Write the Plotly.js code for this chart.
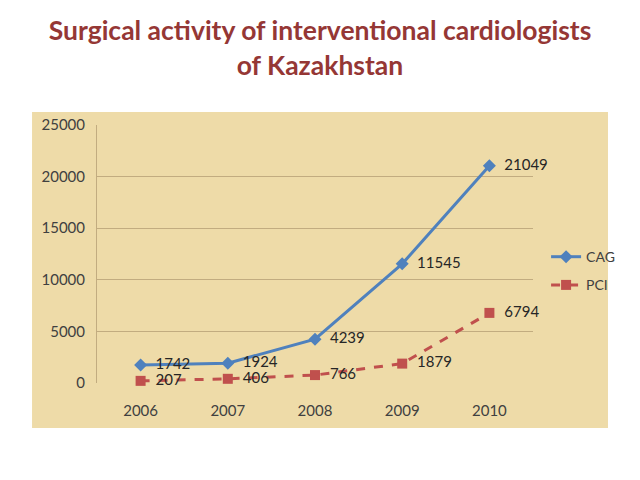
<!DOCTYPE html>
<html><head><meta charset="utf-8">
<script src="https://cdn.plot.ly/plotly-3.0.1.min.js"></script>
<style>html,body{margin:0;padding:0;background:#fff}#c{width:640px;height:480px}</style>
</head><body><div id="c"></div>
<script>
const years = ['2006','2007','2008','2009','2010'];
const cag = [1742, 1924, 4239, 11545, 21049];
const pci = [207, 406, 766, 1879, 6794];
const yTicks = [0, 5000, 10000, 15000, 20000, 25000];

const lblFont = {family: 'Lato, sans-serif', size: 15, color: '#262626'};
const traces = [
  {x: years, y: cag, name: 'CAG', legendgroup: 'a', type: 'scatter', mode: 'lines+markers+text',
   text: cag.map(v => '  ' + v), textposition: 'middle right', cliponaxis: false,
   textfont: lblFont,
   line: {color: '#4F81BD', width: 3},
   marker: {symbol: 'diamond', size: 10, color: '#4F81BD'}},
  {x: years, y: pci, name: 'PCI', legendgroup: 'b', type: 'scatter', mode: 'lines+markers+text',
   text: pci.map(v => '  ' + v), textposition: 'middle right', cliponaxis: false,
   textfont: lblFont,
   line: {color: '#C0504D', width: 3, dash: 'dash'},
   marker: {symbol: 'square', size: 10, color: '#C0504D'}}
];

const layout = {
  width: 640, height: 480,
  paper_bgcolor: '#ffffff', plot_bgcolor: 'rgba(0,0,0,0)',
  margin: {l: 97, r: 107, t: 125, b: 97},
  title: {text: 'Surgical activity of interventional cardiologists<br>of Kazakhstan',
    font: {family: 'Lato, sans-serif', size: 26.5, color: '#953735', weight: 'bold'},
    x: 0.5, xref: 'container', y: 0.916, yref: 'container', xanchor: 'center', yanchor: 'top'},
  xaxis: {type: 'category', range: [-0.5, 4.5], showgrid: false, zeroline: false,
    showline: false, ticks: 'outside', ticklen: 14, tickcolor: 'rgba(0,0,0,0)',
    tickfont: {family: 'Lato, sans-serif', size: 15, color: '#404040'}},
  yaxis: {range: [0, 25000], tickvals: yTicks, ticktext: yTicks.map(String), showgrid: true,
    gridcolor: 'rgba(140,115,80,0.45)', gridwidth: 1, zeroline: false,
    showline: true, linecolor: 'rgba(140,115,80,0.45)', ticks: 'outside', ticklen: 8,
    tickcolor: 'rgba(0,0,0,0)',
    tickfont: {family: 'Lato, sans-serif', size: 15, color: '#404040'}},
  legend: {x: 1.03, y: 0.55, xanchor: 'left', yanchor: 'top', traceorder: 'grouped',
    bgcolor: 'rgba(0,0,0,0)', font: {family: 'Lato, sans-serif', size: 14, color: '#404040'},
    tracegroupgap: 7, itemwidth: 30},
  showlegend: true,
  shapes: [{type: 'rect', xref: 'paper', yref: 'paper', x0: -0.149, x1: 1.172, y0: -0.174, y1: 1.05,
    fillcolor: '#EEDBA8', line: {width: 0}, layer: 'below'}]
};
Plotly.newPlot('c', traces, layout, {displayModeBar: false, staticPlot: true});
</script></body></html>
